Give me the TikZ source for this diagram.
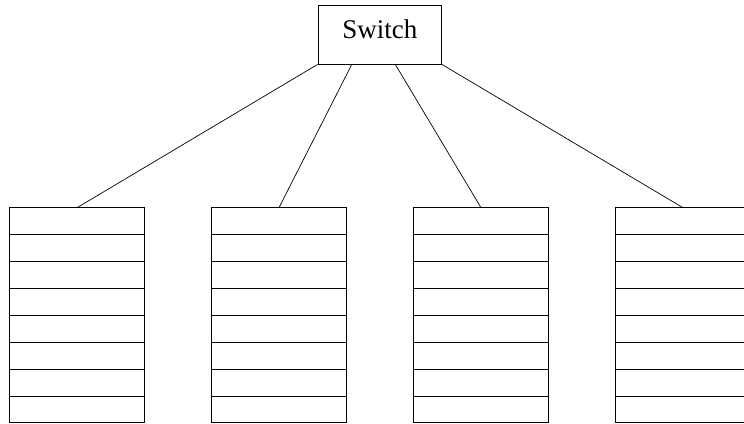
\documentclass[tikz,border=0pt]{standalone}
\usepackage{fontspec}
\setmainfont{Liberation Serif}
\usetikzlibrary{calc}
\begin{document}
\begin{tikzpicture}[x=1pt,y=-1pt,line width=0.9pt,
  switchbox/.style={draw, minimum width=123.5, minimum height=59, inner sep=0, text height=20pt, text depth=12.4pt, font=\fontsize{27}{30}\selectfont},
  slot/.style={draw, minimum width=135, minimum height=26.9, inner sep=0, outer sep=0},
  link/.style={draw, line width=0.7pt}]
\useasboundingbox (0,0) rectangle (744,423);
\node[switchbox] (sw) at (379.75,34.5) {Switch};
\coordinate (p1) at (sw.south west);
\coordinate (p2) at ($(sw.south west)!0.275!(sw.south east)$);
\coordinate (p3) at ($(sw.south west)!0.625!(sw.south east)$);
\coordinate (p4) at (sw.south east);
\foreach \i in {1,...,4}{
  \foreach \j in {1,...,8}{
    \node[slot] (r\i-\j) at ({77+202*(\i-1)},{207.7+26.9*(\j-0.5)}) {};
  }
  \draw[link] (p\i) -- (r\i-1.north);
}
\end{tikzpicture}
\end{document}
